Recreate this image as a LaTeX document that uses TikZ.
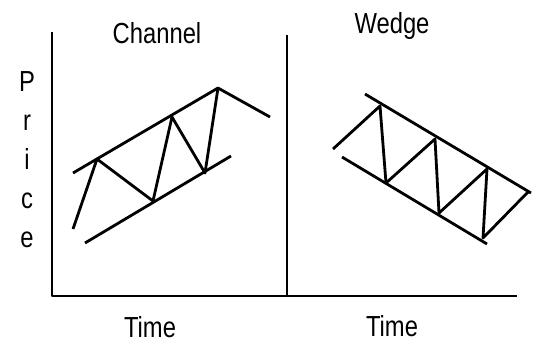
\documentclass[tikz,border=0pt]{standalone}
\usepackage{fontspec}
\newfontfamily\labelfont[FakeStretch=0.82]{Liberation Sans}

\begin{document}
\begin{tikzpicture}[x=1pt,y=-1pt,line width=2.8pt,line join=round,
    txt/.style={font=\labelfont\fontsize{29}{39}\selectfont,inner sep=0pt}]
    \useasboundingbox (0,0) rectangle (537,349);

    % axes
    \coordinate (oL) at (52,296);
    \coordinate (yL) at (52,32);
    \coordinate (oR) at (287,296);
    \coordinate (yR) at (287,35);
    \coordinate (xR) at (517,296);

    \draw (yL) -- (oL) -- (xR);
    \draw (yR) -- (oR);

    % channel lines
    \coordinate (cu1) at (73,173);
    \coordinate (cu2) at (218,88);
    \coordinate (cl1) at (85,243);
    \coordinate (cl2) at (231,156);

    \draw (cu1) -- (cu2);
    \draw (cl1) -- (cl2);

    % channel zigzag
    \coordinate (c0) at (73,229);
    \coordinate (c1) at (97,159);
    \coordinate (c2) at (153,201);
    \coordinate (c3) at (172,117);
    \coordinate (c4) at (205,173);
    \coordinate (c5) at (218,88);
    \coordinate (c6) at (270,117);

    \draw (c0) -- (c1) -- (c2) -- (c3) -- (c4) -- (c5) -- (c6);

    % wedge lines
    \coordinate (wu1) at (365,94);
    \coordinate (wu2) at (531,193);
    \coordinate (wl1) at (342,157);
    \coordinate (wl2) at (487,244);

    \draw (wu1) -- (wu2);
    \draw (wl1) -- (wl2);

    % wedge zigzag
    \coordinate (w0) at (333,149);
    \coordinate (w1) at (380,106);
    \coordinate (w2) at (386,183);
    \coordinate (w3) at (435,139);
    \coordinate (w4) at (439,213);
    \coordinate (w5) at (487,169);
    \coordinate (w6) at (483,238);
    \coordinate (w7) at (528,192);

    \draw (w0) -- (w1) -- (w2) -- (w3) -- (w4) -- (w5) -- (w6) -- (w7);

    % labels
    \node [txt,anchor=base] (channel) at (157,43) {Channel};
    \node [txt,anchor=base] (wedge) at (392,33) {Wedge};
    \node [txt,anchor=base] (timeL) at (150,337) {Time};
    \node [txt,anchor=base] (timeR) at (392,336) {Time};
    \node [txt,align=center] (price) at (27,160) {P\\r\\i\\c\\e};

\end{tikzpicture}
\end{document}
